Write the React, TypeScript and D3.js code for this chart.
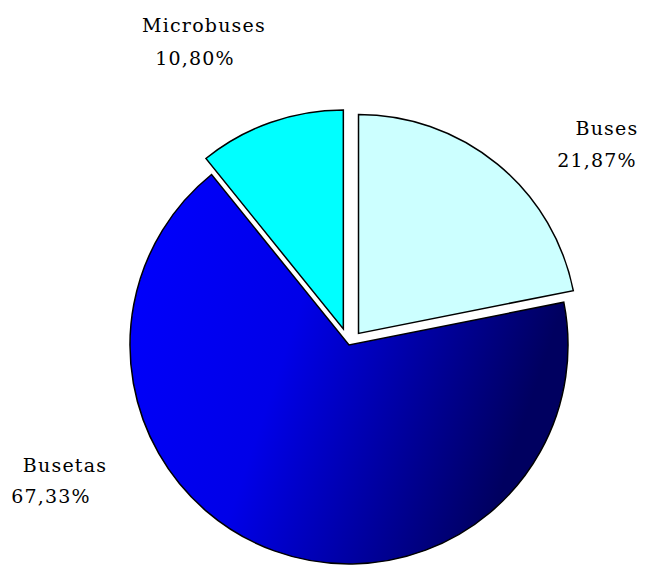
import React from "react";
import * as d3 from "d3";

const LABELS = ["Buses", "Busetas", "Microbuses"];
const VALUES = [21.87, 67.33, 10.8];
const FILLS = ["#ccffff", "url(#busetasGrad)", "#00ffff"];
const EXPLODE = [15, 0, 17];
const NAME_POS: [number, number][] = [
  [607, 135],
  [65, 472],
  [204, 32],
];
const PCT_POS: [number, number][] = [
  [597, 167],
  [51, 503],
  [195, 65],
];

const W = 649;
const H = 565;
const CX = 349;
const CY = 345;
const R = 219;

export default function App() {
  const pie = d3.pie<number>().sort(null).value((d) => d)(VALUES);
  const arc = d3.arc<d3.PieArcDatum<number>>().innerRadius(0).outerRadius(R);
  const font = { fontFamily: "'DejaVu Serif', serif", fontSize: 19, letterSpacing: 1.2 };

  return (
    <svg width={W} height={H} style={{ position: "absolute", left: 0, top: 0 }}>
      <defs>
        <linearGradient id="busetasGrad" x1="0" y1="0" x2="1" y2="0.3">
          <stop offset="0%" stopColor="#0000ff" />
          <stop offset="45%" stopColor="#0000e8" />
          <stop offset="100%" stopColor="#000060" />
        </linearGradient>
      </defs>
      {pie.map((p, i) => {
        const mid = (p.startAngle + p.endAngle) / 2;
        const dx = Math.sin(mid) * EXPLODE[i];
        const dy = -Math.cos(mid) * EXPLODE[i];
        return (
          <path
            key={LABELS[i]}
            d={arc(p) ?? ""}
            transform={`translate(${CX + dx},${CY + dy})`}
            fill={FILLS[i]}
            stroke="#000"
            strokeWidth={1.5}
          />
        );
      })}
      {LABELS.map((l, i) => (
        <g key={l}>
          <text x={NAME_POS[i][0]} y={NAME_POS[i][1]} textAnchor="middle" {...font}>
            {l}
          </text>
          <text x={PCT_POS[i][0]} y={PCT_POS[i][1]} textAnchor="middle" {...font}>
            {VALUES[i].toFixed(2).replace(".", ",")}%
          </text>
        </g>
      ))}
    </svg>
  );
}
